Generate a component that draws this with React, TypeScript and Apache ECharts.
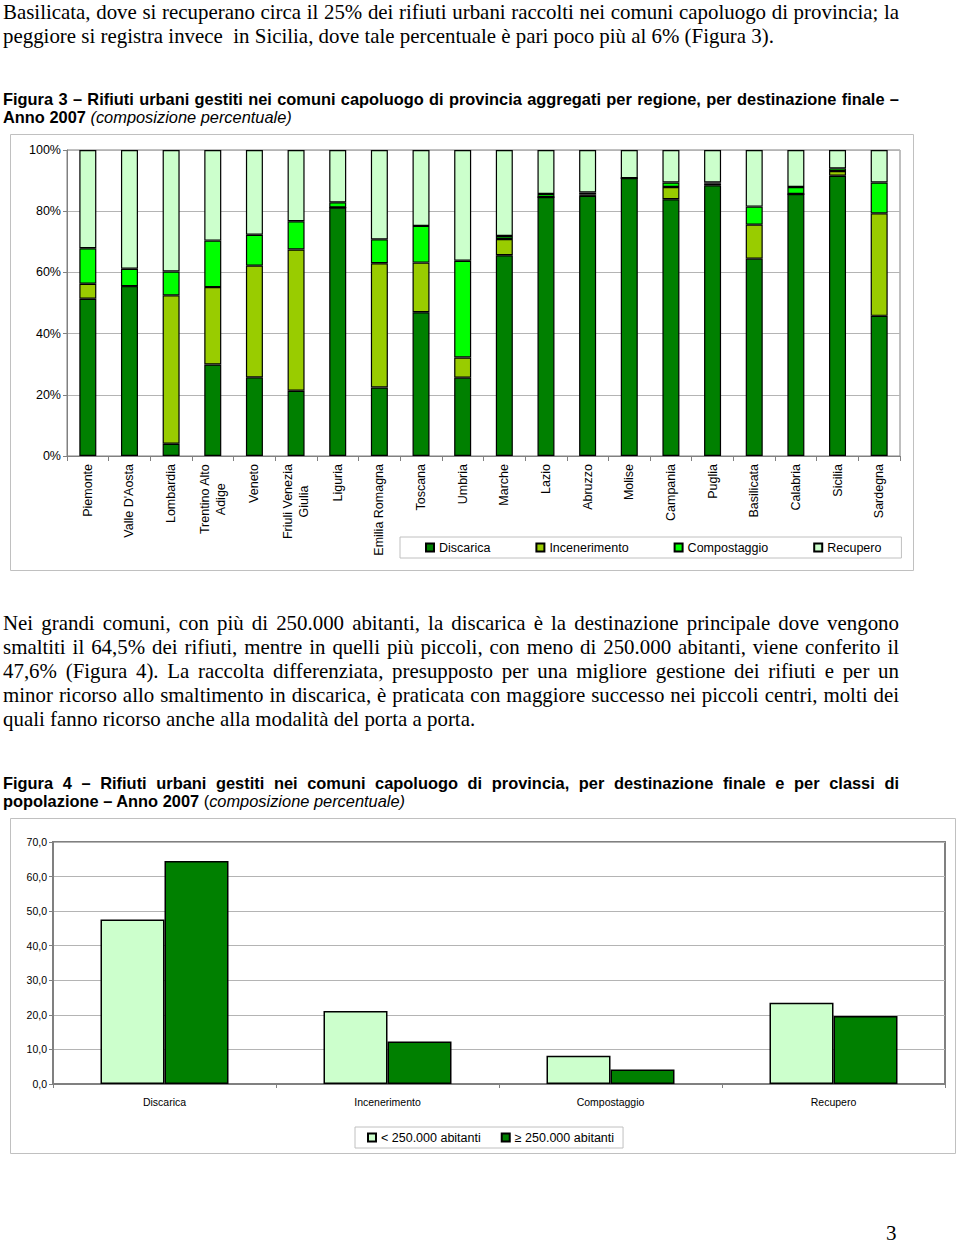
import React, { useEffect, useRef } from "react";
import * as echarts from "echarts";

// ---------- Figure 3 data ----------
const regions = [
  "Piemonte", "Valle D'Aosta", "Lombardia", "Trentino Alto\nAdige", "Veneto",
  "Friuli Venezia\nGiulia", "Liguria", "Emilia Romagna", "Toscana", "Umbria",
  "Marche", "Lazio", "Abruzzo", "Molise", "Campania", "Puglia", "Basilicata",
  "Calabria", "Sicilia", "Sardegna",
];
const discarica = [51.4, 55.5, 4.0, 29.9, 25.7, 21.3, 81.2, 22.4, 47.0, 25.6, 65.6, 84.6, 85.0, 90.8, 83.9, 88.5, 64.5, 85.6, 91.6, 45.8];
const incenerimento = [4.9, 0, 48.5, 25.3, 36.5, 46.2, 0, 40.6, 16.2, 6.6, 5.3, 0, 0.5, 0, 4.0, 0.5, 11.1, 0, 1.5, 33.5];
const compostaggio = [11.6, 5.7, 7.8, 15.2, 10.1, 9.2, 1.7, 7.8, 12.0, 31.6, 1.0, 1.0, 0.6, 0, 1.5, 0.4, 5.9, 2.3, 0.9, 10.1];
const recupero = [32.1, 38.8, 39.7, 29.6, 27.7, 23.3, 17.1, 29.2, 24.8, 36.2, 28.1, 14.4, 13.9, 9.2, 10.6, 10.6, 18.5, 12.1, 6.0, 10.6];
const seriesNames1 = ["Discarica", "Incenerimento", "Compostaggio", "Recupero"];

// ---------- Figure 4 data ----------
const destinazioni = ["Discarica", "Incenerimento", "Compostaggio", "Recupero"];
const piccoliComuni = [47.6, 21.1, 8.2, 23.5];
const grandiComuni = [64.5, 12.3, 4.2, 19.7];
const seriesNames2 = ["< 250.000 abitanti", "≥ 250.000 abitanti"];

const SANS = "Arial, 'Liberation Sans', sans-serif";
const SERIF = "'Times New Roman', 'Liberation Serif', serif";
const C_DISC = "#008000";
const C_INC = "#99CC00";
const C_COMP = "#00FF00";
const C_REC = "#CCFFCC";

function useChart(option: any) {
  const ref = useRef<HTMLDivElement>(null);
  useEffect(() => {
    if (!ref.current) return;
    const chart = echarts.init(ref.current, undefined, { renderer: "svg" });
    chart.setOption(option);
    return () => chart.dispose();
  }, []);
  return ref;
}

const W1 = 904;
const H1 = 437;
const stackColors = [C_DISC, C_INC, C_COMP, C_REC];
const stackData = [discarica, incenerimento, compostaggio, recupero];

const option1 = {
  animation: false,
  textStyle: { fontFamily: SANS },
  graphic: [
    {
      type: "rect",
      shape: { x: 0.5, y: 0.5, width: W1 - 1, height: H1 - 1 },
      style: { fill: "none", stroke: "#c0c0c0", lineWidth: 1 },
      silent: true,
    },
  ],
  grid: { left: 57, top: 16, right: 14, bottom: 115, show: true, borderColor: "#808080", borderWidth: 1 },
  legend: {
    data: seriesNames1,
    left: 390,
    top: 403,
    padding: [4, 20, 4, 25],
    itemGap: 45,
    itemWidth: 8,
    itemHeight: 8,
    icon: "rect",
    borderColor: "#c0c0c0",
    borderWidth: 1,
    textStyle: { fontSize: 12.5, color: "#000", fontFamily: SANS },
  },
  xAxis: {
    type: "category",
    data: regions,
    axisLine: { lineStyle: { color: "#808080" } },
    axisTick: { show: true, length: 5, lineStyle: { color: "#808080" } },
    axisLabel: {
      interval: 0,
      rotate: 90,
      margin: 8,
      color: "#000",
      formatter: (v: string) => v.split("\n").map((s) => `{c|${s}}`).join("\n"),
      rich: { c: { align: "center", fontSize: 12.5, lineHeight: 16, fontFamily: SANS, color: "#000" } },
    },
  },
  yAxis: {
    type: "value",
    min: 0,
    max: 100,
    interval: 20,
    axisLine: { show: true, lineStyle: { color: "#808080" } },
    axisTick: { show: true, length: 4, lineStyle: { color: "#808080" } },
    axisLabel: { formatter: "{value}%", fontSize: 12.5, color: "#000", margin: 6 },
    splitLine: { lineStyle: { color: "#b4b4b4" } },
  },
  series: seriesNames1.map((name, i) => ({
    name,
    type: "bar",
    stack: "tot",
    barWidth: 17,
    data: stackData[i],
    itemStyle: { color: stackColors[i], borderColor: "#000", borderWidth: 1.2 },
  })),
};

const W2 = 946;
const H2 = 336;
const option2 = {
  animation: false,
  textStyle: { fontFamily: SANS },
  graphic: [
    {
      type: "rect",
      shape: { x: 0.5, y: 0.5, width: W2 - 1, height: H2 - 1 },
      style: { fill: "none", stroke: "#c0c0c0", lineWidth: 1 },
      silent: true,
    },
  ],
  grid: { left: 43, top: 24, right: 11, bottom: 70, show: true, borderColor: "#808080", borderWidth: 2 },
  legend: {
    data: seriesNames2,
    left: 345,
    top: 309,
    padding: [4, 9, 4, 12],
    itemGap: 20,
    itemWidth: 8,
    itemHeight: 8,
    icon: "rect",
    borderColor: "#c0c0c0",
    borderWidth: 1,
    textStyle: { fontSize: 12.5, color: "#000", fontFamily: SANS },
  },
  xAxis: {
    type: "category",
    data: destinazioni,
    axisLine: { lineStyle: { color: "#808080", width: 2 } },
    axisTick: { show: true, length: 4, lineStyle: { color: "#808080" } },
    axisLabel: { fontSize: 10.5, color: "#000", margin: 12 },
  },
  yAxis: {
    type: "value",
    min: 0,
    max: 70,
    interval: 10,
    axisLine: { show: true, lineStyle: { color: "#808080", width: 2 } },
    axisTick: { show: true, length: 4, lineStyle: { color: "#808080" } },
    axisLabel: {
      fontSize: 10.5,
      color: "#000",
      margin: 6,
      formatter: (v: number) => v.toFixed(1).replace(".", ","),
    },
    splitLine: { lineStyle: { color: "#b4b4b4" } },
  },
  series: [
    {
      name: seriesNames2[0],
      type: "bar",
      barWidth: 64,
      barGap: "0%",
      data: piccoliComuni,
      itemStyle: { color: C_REC, borderColor: "#000", borderWidth: 1.5 },
    },
    {
      name: seriesNames2[1],
      type: "bar",
      barWidth: 64,
      barGap: "0%",
      data: grandiComuni,
      itemStyle: { color: C_DISC, borderColor: "#000", borderWidth: 1.5 },
    },
  ],
};

const bodyLine = (top: number, text: React.ReactNode, justify: boolean) => (
  <div
    style={{
      position: "absolute",
      left: 3,
      top,
      width: 896,
      fontFamily: SERIF,
      fontSize: 20.9,
      lineHeight: "24px",
      textAlign: justify ? "justify" : "left",
      textAlignLast: justify ? "justify" : "left",
      whiteSpace: "nowrap",
      color: "#000",
    }}
  >
    {text}
  </div>
);

const capLine = (top: number, content: React.ReactNode, justify: boolean) => (
  <div
    style={{
      position: "absolute",
      left: 3,
      top,
      width: 896,
      fontFamily: SANS,
      fontSize: 16.4,
      fontWeight: "bold",
      lineHeight: "18px",
      textAlign: justify ? "justify" : "left",
      textAlignLast: justify ? "justify" : "left",
      whiteSpace: "nowrap",
      color: "#000",
    }}
  >
    {content}
  </div>
);

const ital: React.CSSProperties = { fontWeight: "normal", fontStyle: "italic" };

export default function App() {
  const ref1 = useChart(option1);
  const ref2 = useChart(option2);
  return (
    <div style={{ position: "absolute", left: 0, top: 0, width: 960, height: 1244, background: "#fff", overflow: "hidden" }}>
      {bodyLine(0, "Basilicata, dove si recuperano circa il 25% dei rifiuti urbani raccolti nei comuni capoluogo di provincia; la", true)}
      {bodyLine(24, "peggiore si registra invece\u00a0 in Sicilia, dove tale percentuale è pari poco più al 6% (Figura 3).", false)}

      {capLine(90, "Figura 3 – Rifiuti urbani gestiti nei comuni capoluogo di provincia aggregati per regione, per destinazione finale –", true)}
      {capLine(108, <>Anno 2007 <span style={ital}>(composizione percentuale)</span></>, false)}

      <div ref={ref1} style={{ position: "absolute", left: 10, top: 134, width: W1, height: H1 }} />

      {bodyLine(611, "Nei grandi comuni, con più di 250.000 abitanti, la discarica è la destinazione principale dove vengono", true)}
      {bodyLine(635, "smaltiti il 64,5% dei rifiuti, mentre in quelli più piccoli, con meno di 250.000 abitanti, viene conferito il", true)}
      {bodyLine(659, "47,6% (Figura 4). La raccolta differenziata, presupposto per una migliore gestione dei rifiuti e per un", true)}
      {bodyLine(683, "minor ricorso allo smaltimento in discarica, è praticata con maggiore successo nei piccoli centri, molti dei", true)}
      {bodyLine(707, "quali fanno ricorso anche alla modalità del porta a porta.", false)}

      {capLine(774, "Figura 4 – Rifiuti urbani gestiti nei comuni capoluogo di provincia, per destinazione finale e per classi di", true)}
      {capLine(792, <>popolazione – Anno 2007 <span style={{ fontWeight: "normal" }}>(</span><span style={ital}>composizione percentuale)</span></>, false)}

      <div ref={ref2} style={{ position: "absolute", left: 10, top: 818, width: W2, height: H2 }} />

      <div style={{ position: "absolute", left: 886, top: 1221, fontFamily: SERIF, fontSize: 21, lineHeight: "24px", color: "#000" }}>3</div>
    </div>
  );
}
